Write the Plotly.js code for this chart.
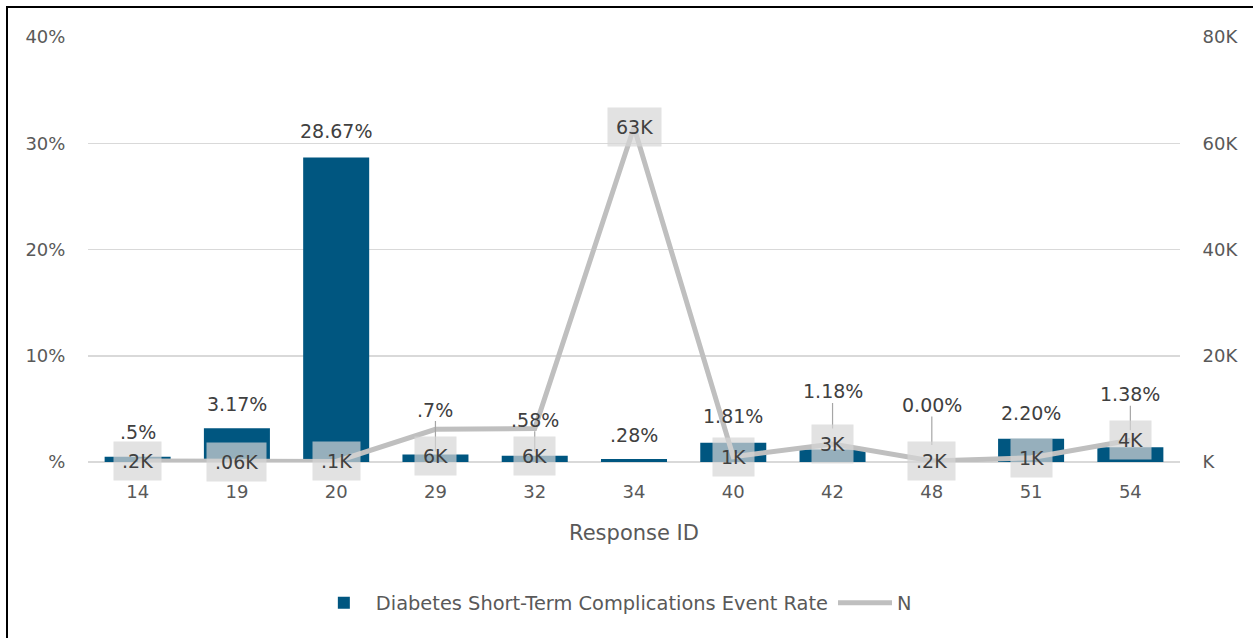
<!DOCTYPE html>
<html>
<head>
<meta charset="utf-8">
<script src="https://cdn.plot.ly/plotly-3.0.1.min.js"></script>
<style>
html,body{margin:0;padding:0;background:#fff;overflow:hidden;}
#chart{width:1253px;height:638px;}
#frame{position:absolute;left:6px;top:6px;width:1300px;height:700px;border:2px solid #000;pointer-events:none;}
</style>
</head>
<body>
<div id="chart"></div>
<div id="frame"></div>
<script>
// ---- data ----
const responseIds = ["14","19","20","29","32","34","40","42","48","51","54"];
const eventRate = [0.5, 3.17, 28.67, 0.7, 0.58, 0.28, 1.81, 1.18, 0.00, 2.20, 1.38];
const eventRateLabels = [".5%","3.17%","28.67%",".7%",".58%",".28%","1.81%","1.18%","0.00%","2.20%","1.38%"];
const nValues = [200, 60, 100, 6150, 6300, 63000, 1000, 3400, 200, 800, 4100];
const nLabels = [".2K",".06K",".1K","6K","6K","63K","1K","3K",".2K","1K","4K"];
const leftTickVals = [0, 10, 20, 30, 40];
const leftTickText = ["%","10%","20%","30%","40%"];
const rightTickVals = [0, 20000, 40000, 60000, 80000];
const rightTickText = ["K","20K","40K","60K","80K"];

// ---- label placement (styling, not data) ----
const barLabelOffset = [25, 24, 26, 45, 36, 24, 27, 58, 57, 26, 53];
const barLabelLeader = [false,false,false,true,true,false,false,true,true,false,true];
const barLeaderStandoff = [0,0,0,3,4,0,0,21,17,0,17];
const nLabelShift = [0,0,0,-27,-27,0,0,0,0,0,0];

const FONT = "'DejaVu Sans', sans-serif";
const BAR = "rgb(0,86,128)";
const LINE = "#BFBFBF";

const traces = [
  {
    type: "bar", name: "Diabetes Short-Term Complications Event Rate",
    x: responseIds, y: eventRate, marker: {color: BAR}, yaxis: "y",
    hoverinfo: "none"
  },
  {
    type: "scatter", mode: "lines", name: "N",
    x: responseIds, y: nValues, yaxis: "y2",
    line: {color: LINE, width: 5}, hoverinfo: "none"
  }
];

const annotations = [];
responseIds.forEach((id, i) => {
  if (barLabelLeader[i]) {
    annotations.push({
      x: i, y: eventRate[i], xref: "x", yref: "y",
      text: eventRateLabels[i], showarrow: true, arrowhead: 0, arrowwidth: 1.2,
      arrowcolor: "#A6A6A6", ax: 0, ay: -barLabelOffset[i], standoff: barLeaderStandoff[i],
      font: {family: FONT, size: 19, color: "#404040"}, borderpad: 0
    });
  } else {
    annotations.push({
      x: i, y: eventRate[i], xref: "x", yref: "y",
      text: eventRateLabels[i], showarrow: false, yshift: barLabelOffset[i],
      font: {family: FONT, size: 19, color: "#404040"}
    });
  }
});
responseIds.forEach((id, i) => {
  annotations.push({
    x: i, y: nValues[i], xref: "x", yref: "y2",
    text: nLabels[i], showarrow: false, yshift: nLabelShift[i],
    bgcolor: "rgba(213,213,213,0.7)", borderpad: 8,
    font: {family: FONT, size: 19, color: "#404040"}
  });
});

const layout = {
  width: 1253, height: 638,
  margin: {l: 88, r: 73, t: 37, b: 176},
  paper_bgcolor: "#fff", plot_bgcolor: "#fff",
  font: {family: FONT, size: 18, color: "#595959"},
  bargap: 0.335,
  showlegend: true,
  legend: {
    orientation: "h", x: 0.482, xanchor: "center", y: -0.332, yanchor: "middle",
    font: {family: FONT, size: 19.4, color: "#595959"}, itemwidth: 54, tracegroupgap: 0
  },
  xaxis: {
    type: "category", range: [-0.5, 10.5], showgrid: false, zeroline: false, showline: false,
    ticks: "outside", ticklen: 13, tickcolor: "rgba(0,0,0,0)",
    tickfont: {family: FONT, size: 18, color: "#595959"},
    title: {text: "Response ID", font: {family: FONT, size: 21, color: "#595959"}, standoff: 24}
  },
  yaxis: {
    range: [0, 40], tickvals: leftTickVals, ticktext: leftTickText,
    showgrid: true, gridcolor: "#D9D9D9", gridwidth: 1.5, zeroline: true, zerolinecolor: "#D9D9D9", zerolinewidth: 1.5,
    showline: false, ticks: "outside", ticklen: 18, tickcolor: "rgba(0,0,0,0)",
    tickfont: {family: FONT, size: 18, color: "#595959"}, fixedrange: true
  },
  yaxis2: {
    range: [0, 80000], tickvals: rightTickVals, ticktext: rightTickText,
    overlaying: "y", side: "right", showgrid: false, zeroline: false, showline: false,
    ticks: "outside", ticklen: 18, tickcolor: "rgba(0,0,0,0)",
    tickfont: {family: FONT, size: 18, color: "#595959"}, fixedrange: true
  },
  annotations: annotations
};

Plotly.newPlot("chart", traces, layout, {displayModeBar: false, staticPlot: true});
</script>
</body>
</html>
